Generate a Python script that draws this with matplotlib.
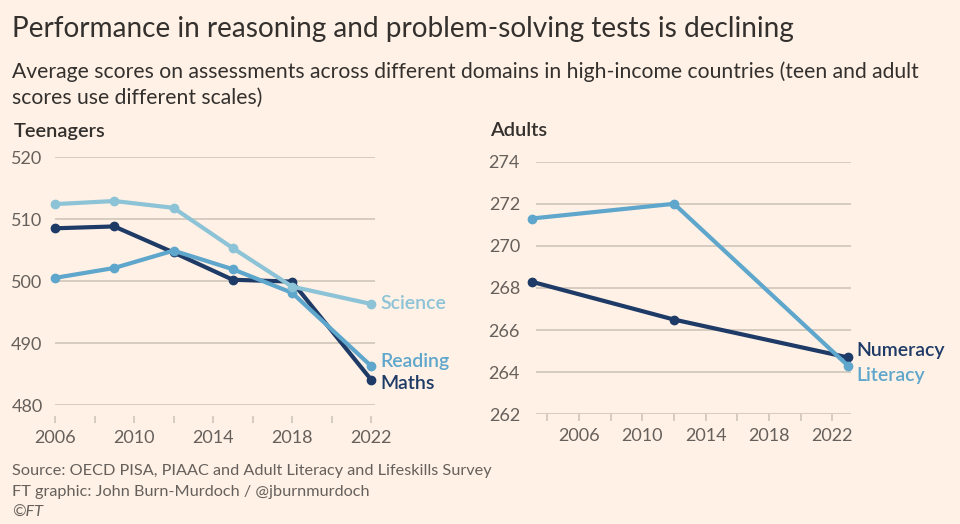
import matplotlib.pyplot as plt
import numpy as np

# teenagers (PISA)
teen_years = [2006, 2009, 2012, 2015, 2018, 2022]
maths = [508.5, 508.8, 504.6, 500.2, 499.9, 484.1]
reading = [500.5, 502.1, 504.9, 501.9, 498.1, 486.3]
science = [512.4, 512.9, 511.8, 505.3, 499.1, 496.3]

# adults (ALL / PIAAC)
adult_years = [2003, 2012, 2023]
numeracy = [268.3, 266.5, 264.7]
literacy = [271.3, 272.0, 264.3]

teen_yticks = [480, 490, 500, 510, 520]
adult_yticks = [262, 264, 266, 268, 270, 272, 274]
teen_xticks = list(range(2006, 2023, 2))
adult_xticks = list(range(2004, 2023, 2))
xtick_labels = ['2006', '2010', '2014', '2018', '2022']

BG = '#FFF1E5'
GRID = '#CEC5B9'
TXT = '#33302E'
TICK = '#66605C'
DARK = '#1E3A66'
MID = '#5EA6CC'
LIGHT = '#8CC3D7'

plt.rcParams['font.family'] = ['Lato', 'DejaVu Sans']

W, H = 960, 524
fig = plt.figure(figsize=(9.6, 5.24), dpi=100, facecolor=BG)


def fx(px):
    return px / W


def fy(py):
    return 1 - py / H


def style_axes(ax, yticks, xticks, gap, ypad):
    ax.set_facecolor(BG)
    for s in ['top', 'right', 'left']:
        ax.spines[s].set_visible(False)
    ax.spines['bottom'].set_position(('outward', gap))
    ax.spines['bottom'].set_visible(False)
    ax.set_yticks(yticks)
    ax.set_xticks(xticks)
    ax.set_xticklabels([str(x) if str(x) in xtick_labels else '' for x in xticks])
    ax.grid(axis='y', color=GRID, linewidth=1.2)
    ax.set_axisbelow(True)
    ax.tick_params(axis='y', length=0, pad=ypad, labelsize=13, labelcolor=TICK)
    ax.tick_params(axis='x', length=5, width=1.2, color=GRID, pad=5,
                   labelsize=13, labelcolor=TICK)


def series(ax, x, y, color, z):
    ax.plot(x, y, color=color, linewidth=3, marker='o', markersize=6,
            clip_on=False, zorder=z, solid_capstyle='round')


# left panel
ax1 = fig.add_axes([fx(55), fy(405), fx(375 - 55), (405 - 157) / H])
style_axes(ax1, teen_yticks, teen_xticks, 8, 9)
ax1.set_xlim(2006, 2022.2)
ax1.set_ylim(480, 520)
series(ax1, teen_years, maths, DARK, 3)
series(ax1, teen_years, reading, MID, 4)
series(ax1, teen_years, science, LIGHT, 5)
for name, vals, col, dy in [('Science', science, LIGHT, 0),
                            ('Reading', reading, MID, 3),
                            ('Maths', maths, DARK, -3)]:
    ax1.annotate(name, (teen_years[-1], vals[-1]), xytext=(7, dy),
                 textcoords='offset points', va='center', ha='left',
                 color=col, fontsize=14, fontweight='semibold', annotation_clip=False)

# right panel
ax2 = fig.add_axes([fx(536), fy(414.3), fx(851 - 536), (414.3 - 161.7) / H])
style_axes(ax2, adult_yticks, adult_xticks, 0, 11.5)
ax2.set_xlim(2003.28, 2023.18)
ax2.set_ylim(262, 274)
series(ax2, adult_years, numeracy, DARK, 3)
series(ax2, adult_years, literacy, MID, 4)
for name, vals, col, dy in [('Numeracy', numeracy, DARK, 5),
                            ('Literacy', literacy, MID, -7)]:
    ax2.annotate(name, (adult_years[-1], vals[-1]), xytext=(6, dy),
                 textcoords='offset points', va='center', ha='left',
                 color=col, fontsize=14, fontweight='semibold', annotation_clip=False)

# titles and notes
fig.text(fx(12), fy(29), 'Performance in reasoning and problem-solving tests is declining',
         fontsize=20.2, color=TXT, va='center', ha='left')
fig.text(fx(12), fy(72), 'Average scores on assessments across different domains in high-income countries (teen and adult',
         fontsize=15.2, color=TXT, va='center', ha='left')
fig.text(fx(12), fy(98), 'scores use different scales)',
         fontsize=15.2, color=TXT, va='center', ha='left')
fig.text(fx(14), fy(131), 'Teenagers', fontsize=14.4, fontweight='semibold', color=TXT,
         va='center', ha='left')
fig.text(fx(490), fy(131), 'Adults', fontsize=14.4, fontweight='semibold', color=TXT,
         va='center', ha='left')
fig.text(fx(12), fy(471), 'Source: OECD PISA, PIAAC and Adult Literacy and Lifeskills Survey',
         fontsize=11.7, color=TICK, va='center', ha='left')
fig.text(fx(12), fy(492), 'FT graphic: John Burn-Murdoch / @jburnmurdoch',
         fontsize=11.7, color=TICK, va='center', ha='left')
fig.text(fx(12), fy(513), '©FT', fontsize=11.7, color=TICK, style='italic',
         va='center', ha='left')

fig.savefig('out.png', dpi=100, facecolor=BG)
